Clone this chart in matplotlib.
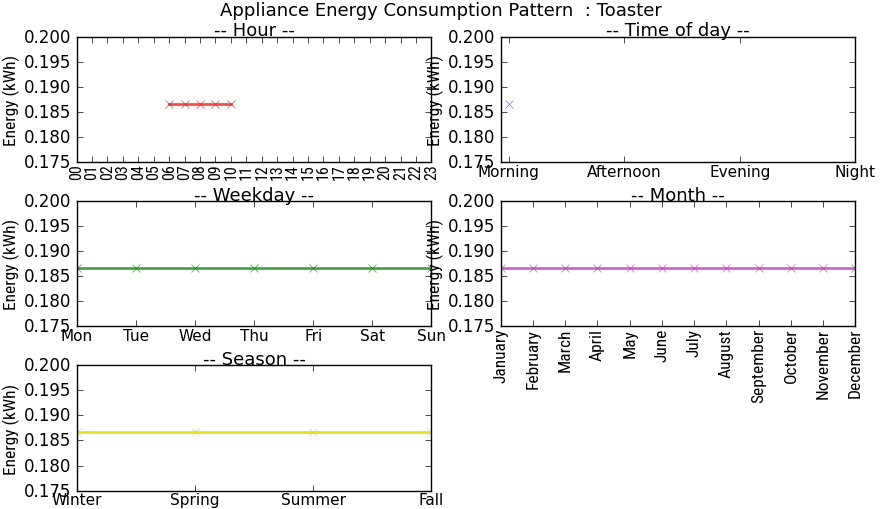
import matplotlib
matplotlib.use('Agg')
import matplotlib.pyplot as plt
from matplotlib import font_manager

plt.style.use('classic')

# Datos del grafico
valor = 0.18667
horas = [6, 7, 8, 9, 10]
energia_horas = [valor] * 5
etiquetas_horas = ['%02d' % h for h in range(24)]

momentos = ['Morning', 'Afternoon', 'Evening', 'Night']
energia_momentos = [valor]

dias = ['Mon', 'Tue', 'Wed', 'Thu', 'Fri', 'Sat', 'Sun']
energia_dias = [valor] * 7

meses = ['January', 'February', 'March', 'April', 'May', 'June', 'July',
         'August', 'September', 'October', 'November', 'December']
energia_meses = [valor] * 12

estaciones = ['Winter', 'Spring', 'Summer', 'Fall']
energia_estaciones = [valor] * 4

# Buscamos una fuente estrecha instalada
instaladas = set(f.name for f in font_manager.fontManager.ttflist)
narrow = 'DejaVu Sans'
for nombre in ['DejaVu Sans Condensed', 'Liberation Sans Narrow', 'Roboto Condensed', 'Open Sans Condensed']:
    if nombre in instaladas:
        narrow = nombre
        break
es_narrow = narrow != 'DejaVu Sans'

fig, axs = plt.subplots(3, 2, figsize=(8.81, 5.10), dpi=100)
fig.subplots_adjust(left=0.087, right=0.971, top=0.926, bottom=0.036, wspace=0.195, hspace=0.31)
fig.suptitle('Appliance Energy Consumption Pattern  : Toaster', fontsize=13, y=0.997)

def estilo(ax, titulo):
    ax.set_title(titulo, fontsize=13, pad=1)
    ax.set_ylim(0.175, 0.200)
    ax.set_yticks([0.175, 0.180, 0.185, 0.190, 0.195, 0.200])
    ax.set_yticklabels(['0.175', '0.180', '0.185', '0.190', '0.195', '0.200'], fontsize=12)
    ax.set_ylabel('Energy (kWh)', fontsize=12.5 if es_narrow else 10, family=narrow)
    ax.yaxis.set_label_coords(-0.16, 0.5)
    ax.tick_params(axis='x', pad=1)

# Hora
ax = axs[0, 0]
ax.plot(horas, energia_horas, 'x-', color='#ee2222', lw=2, ms=6, alpha=0.8)
ax.set_xlim(0, 23)
ax.set_xticks(range(24))
ax.set_xticklabels(etiquetas_horas, rotation=90, fontsize=11.5 if es_narrow else 9, family=narrow)
estilo(ax, '-- Hour --')

# Momento del dia
ax = axs[0, 1]
ax.plot(range(len(energia_momentos)), energia_momentos, 'x', color='#3333ff', ms=6, alpha=0.7)
ax.set_xlim(-0.07, 3)
ax.set_xticks(range(4))
ax.set_xticklabels(momentos, fontsize=11)
estilo(ax, '-- Time of day --')

# Dia de la semana
ax = axs[1, 0]
ax.plot(range(7), energia_dias, 'x-', color='#1a8c1a', lw=2, ms=6, alpha=0.8)
ax.set_xlim(0, 6)
ax.set_xticks(range(7))
ax.set_xticklabels(dias, fontsize=11)
estilo(ax, '-- Weekday --')

# Mes
ax = axs[1, 1]
ax.plot(range(12), energia_meses, 'x-', color='#c040c0', lw=2, ms=6, alpha=0.8)
ax.set_xlim(0, 11)
ax.set_xticks(range(12))
ax.set_xticklabels(meses, rotation=90, fontsize=12.5 if es_narrow else 9.5, family=narrow)
estilo(ax, '-- Month --')

# Estacion
ax = axs[2, 0]
ax.plot(range(4), energia_estaciones, 'x-', color='#e6dc10', lw=2, ms=6, alpha=0.9)
ax.set_xlim(0, 3)
ax.set_xticks(range(4))
ax.set_xticklabels(estaciones, fontsize=11)
estilo(ax, '-- Season --')

axs[2, 1].axis('off')

fig.savefig('out.png', dpi=100)
